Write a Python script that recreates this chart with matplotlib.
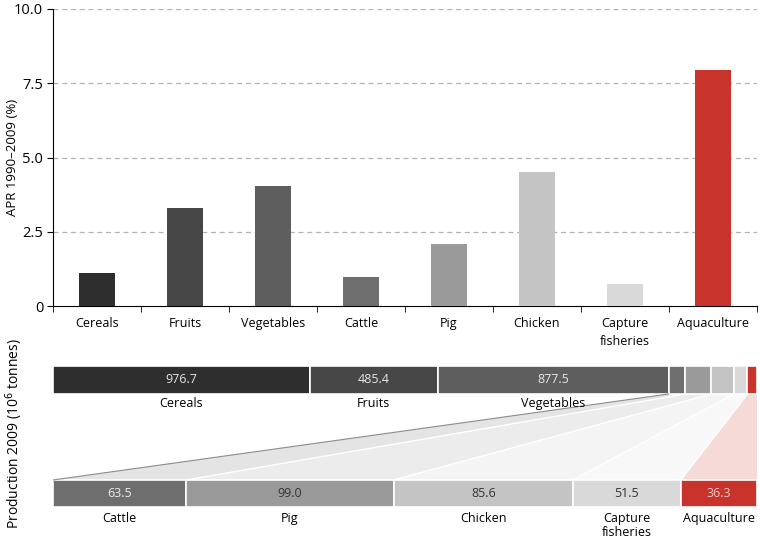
import numpy as np
import matplotlib.pyplot as plt
import matplotlib as mpl
from matplotlib.patches import Polygon

mpl.rcParams.update({'font.family': ['Open Sans', 'DejaVu Sans'], 'font.size': 9})

# growth rates (top panel)
categories = ['Cereals', 'Fruits', 'Vegetables', 'Cattle', 'Pig', 'Chicken',
              'Capture\nfisheries', 'Aquaculture']
apr = [1.10, 3.30, 4.05, 0.96, 2.09, 4.50, 0.73, 7.94]
colors = ['#2e2e2e', '#474747', '#5e5e5e', '#6e6e6e', '#9a9a9a', '#c4c4c4',
          '#d9d9d9', '#c8332c']

# production 2009 (bottom panel)
production = [976.7, 485.4, 877.5, 63.5, 99.0, 85.6, 51.5, 36.3]
n_big = 3  # first three go in the top bar, the rest are zoomed below
value_colors = ['#e6e6e6', '#e6e6e6', '#e6e6e6', '#ececec', '#333333',
                '#333333', '#333333', '#f2c4c0']

W, H = 760, 542
fig = plt.figure(figsize=(W/100, H/100), dpi=100)

# ---------- top bar chart ----------
ax = fig.add_axes((53/W, 1-306/H, 704/W, 297/H))
x = np.arange(len(categories)) + 0.5
ax.bar(x, apr, width=0.4, color=colors, zorder=3)
ax.set_xlim(0, len(categories))
ax.set_ylim(0, 10)
ax.set_yticks([0, 2.5, 5, 7.5, 10])
ax.set_yticklabels(['0', '2.5', '5.0', '7.5', '10.0'])
ax.set_xticks(x)
ax.set_xticklabels([c.split('\n')[0] for c in categories])
ax.set_xticks(np.arange(len(categories)+1), minor=True)
ax.tick_params(axis='x', which='major', length=0, pad=8)
ax.tick_params(axis='x', which='minor', length=4, direction='out')
ax.tick_params(axis='y', length=4, pad=3, labelsize=10.5)
ax.text(x[6], -0.98, 'fisheries', ha='center', va='top')
for s in ['top', 'right']:
    ax.spines[s].set_visible(False)
for y in [2.5, 5, 7.5, 10]:
    ax.axhline(y, color='#b3b3b3', lw=0.9, ls=(0, (4, 3)), zorder=1)

fig.text(13/W, 1-157/H, 'APR 1990–2009 (%)', rotation=90,
         ha='center', va='center', fontsize=9.5)

# ---------- bottom production bars ----------
bx = fig.add_axes((53/W, 0, 704/W, 187/H))
bx.set_xlim(0, sum(production))
bx.set_ylim(542, 355)
bx.axis('off')

total = sum(production)
small = production[n_big:]
small_scale = total / sum(small)

top_left = np.concatenate([[0], np.cumsum(production)[:-1]])
bot_left = np.concatenate([[0], np.cumsum(small)[:-1]]) * small_scale
bot_width = np.array(small) * small_scale

top_y0, top_y1 = 366, 394
bot_y0, bot_y1 = 480, 507

bx.barh((top_y0+top_y1)/2, production, left=top_left, height=top_y1-top_y0,
        color=colors, edgecolor='white', linewidth=1.2)
bx.barh((bot_y0+bot_y1)/2, bot_width, left=bot_left, height=bot_y1-bot_y0,
        color=colors[n_big:], edgecolor='white', linewidth=1.2)

for i in range(n_big):
    cx = top_left[i] + production[i]/2
    bx.text(cx, (top_y0+top_y1)/2, f'{production[i]:.1f}', ha='center', va='center',
            color=value_colors[i], fontsize=9)
    bx.text(cx, 404, categories[i].replace('\n', ' '), ha='center', va='center', fontsize=9)

for j, v in enumerate(small):
    cx = bot_left[j] + bot_width[j]/2
    bx.text(cx, (bot_y0+bot_y1)/2, f'{v:.1f}', ha='center', va='center',
            color=value_colors[n_big+j], fontsize=9)
    bx.text(cx, 512, categories[n_big+j], ha='center', va='top', fontsize=9,
            linespacing=1.15)

# funnels linking the small segments to the zoomed bar
for j, v in enumerate(small):
    i = n_big + j
    tl, tr = top_left[i], top_left[i] + production[i]
    bl, br = bot_left[j], bot_left[j] + bot_width[j]
    poly = Polygon([(tl, top_y1), (tr, top_y1), (br, bot_y0), (bl, bot_y0)],
                   closed=True, facecolor=colors[i], alpha=0.18,
                   edgecolor='none', zorder=0)
    bx.add_patch(poly)
    bx.plot([tr, br], [top_y1, bot_y0], color='white', lw=1.0, zorder=1)
# outer edges
bx.plot([top_left[n_big], bot_left[0]], [top_y1, bot_y0], color='#8c8c8c', lw=0.8, zorder=2)
bx.plot([total, total], [top_y1, bot_y0], color='#8c8c8c', lw=0.8, zorder=2)

fig.text(14/W, 1-434/H, 'Production 2009 (10$^6$ tonnes)', rotation=90,
         ha='center', va='center', fontsize=10)

plt.savefig('out.png', dpi=100)
